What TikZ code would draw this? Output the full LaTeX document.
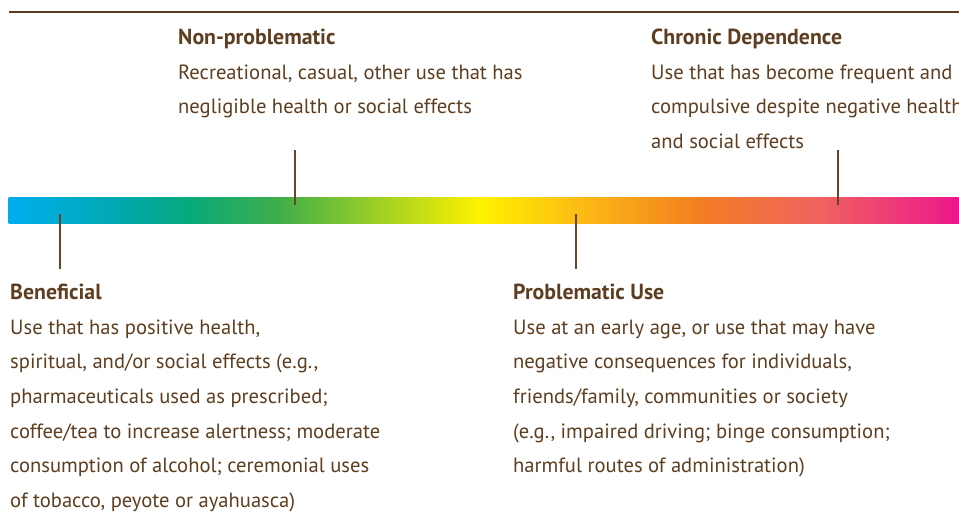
\documentclass[tikz,border=0pt]{standalone}
\usepackage{fontspec}
\setmainfont{PT Sans}
\definecolor{ink}{RGB}{94,62,32}
\definecolor{tickc}{RGB}{100,70,40}
\definecolor{g0}{RGB}{0,174,239}
\definecolor{g1}{RGB}{0,168,175}
\definecolor{g2}{RGB}{8,170,122}
\definecolor{g3}{RGB}{64,174,73}
\definecolor{g4}{RGB}{255,242,0}
\definecolor{g5}{RGB}{252,190,20}
\definecolor{g6}{RGB}{243,128,32}
\definecolor{g7}{RGB}{240,98,96}
\definecolor{g8}{RGB}{236,22,140}
\newcommand{\lines}[1]{\vtop{\halign{##\hfil\cr#1\crcr}}}
\tikzset{
  head/.style={anchor=base west, inner sep=0pt, text=ink, font=\fontsize{21.8}{34.7}\selectfont\bfseries},
  body/.style={anchor=base west, inner sep=0pt, text=ink, font=\fontsize{20.6}{34.7}\selectfont},
  tickline/.style={draw=tickc, line width=2pt},
  rule/.style={draw=ink, line width=2.5pt},
}
\begin{document}
\begin{tikzpicture}[x=1pt,y=-1pt]
\useasboundingbox (0,0) rectangle (959,523);
\clip (0,0) rectangle (959,523);
% top rule
\coordinate (r1) at (9,12);
\coordinate (r2) at (960,12);
\draw[rule] (r1) -- (r2);
% gradient bar
\foreach \xa/\xb/\ca/\cb in {9/120/g0/g1, 120/190/g1/g2, 190/280/g2/g3, 280/480/g3/g4, 480/575/g4/g5, 575/695/g5/g6, 695/820/g6/g7, 820/960/g7/g8}{
  \shade[left color=\ca, right color=\cb] (\xa-0.3,197) rectangle (\xb+0.3,223);
}
% ticks
\coordinate (b1) at (60,214); \coordinate (b2) at (60,269);
\coordinate (n1) at (295,150); \coordinate (n2) at (295,205);
\coordinate (p1) at (576,214); \coordinate (p2) at (576,269);
\coordinate (c1) at (838,150); \coordinate (c2) at (838,205);
\draw[tickline] (b1) -- (b2);
\draw[tickline] (n1) -- (n2);
\draw[tickline] (p1) -- (p2);
\draw[tickline] (c1) -- (c2);
% texts
\node[head] (nph) at (178,44) {Non-problematic};
\node[body] (npb) at (178,79) {\lines{Recreational, casual, other use that has\cr negligible health or social effects}};
\node[head] (cdh) at (651,44) {Chronic Dependence};
\node[body] (cdb) at (651,79) {\lines{Use that has become frequent and\cr compulsive despite negative health\cr and social effects}};
\node[head] (beh) at (10,299) {Beneficial};
\node[body] (beb) at (10,334) {\lines{Use that has positive health,\cr spiritual, and/or social effects (e.g.,\cr pharmaceuticals used as prescribed;\cr coffee/tea to increase alertness; moderate\cr consumption of alcohol; ceremonial uses\cr of tobacco, peyote or ayahuasca)}};
\node[head] (puh) at (513,299) {Problematic Use};
\node[body] (pub) at (513,334) {\lines{Use at an early age, or use that may have\cr negative consequences for individuals,\cr friends/family, communities or society\cr (e.g., impaired driving; binge consumption;\cr harmful routes of administration)}};
\end{tikzpicture}
\end{document}
